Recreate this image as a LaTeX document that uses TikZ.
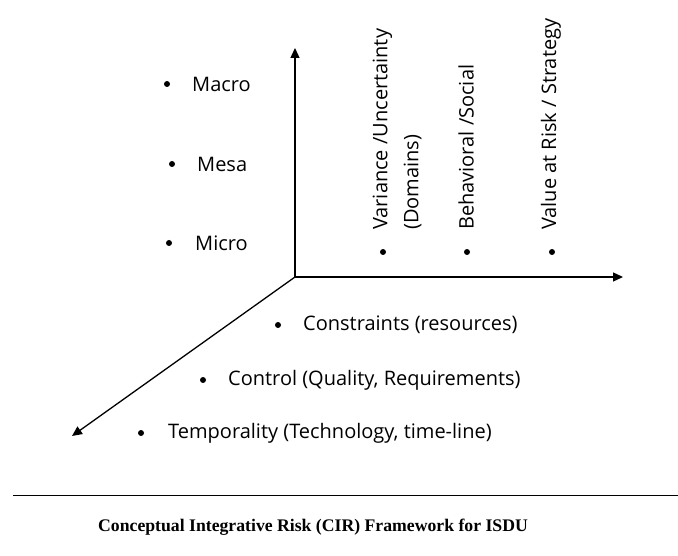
\documentclass[tikz,border=0pt]{standalone}
\usepackage{fontspec}
\setmainfont{Liberation Serif}
\newfontfamily\labfont{Open Sans}
\usetikzlibrary{arrows.meta}
\begin{document}
\begin{tikzpicture}[x=1pt,y=-1pt,
  axis/.style={line width=1.3pt,-{Triangle[length=10pt,width=9pt]}},
  dot/.style={circle,fill=black,inner sep=0pt,minimum size=6pt},
  lab/.style={font=\labfont\fontsize{20}{24}\selectfont,inner sep=0pt,anchor=west},
  vlab/.style={lab,rotate=90,align=left},
  caption/.style={font=\bfseries\fontsize{17.7}{21}\selectfont,inner sep=0pt,anchor=west}]
\useasboundingbox (0,0) rectangle (678,556);

% axes
\coordinate (O) at (295,277);
\coordinate (ytip) at (295,48);
\coordinate (xtip) at (623,277);
\coordinate (ztip) at (72,436);
\draw[axis] (O) -- (ytip);
\draw[axis] (O) -- (xtip);
\draw[axis] (O) -- (ztip);

% levels along the vertical axis
\node[dot] (dmacro) at (167,84) {};
\node[lab] (macro) at (192,84) {Macro};
\node[dot] (dmesa) at (172,164) {};
\node[lab] (mesa) at (197,164) {Mesa};
\node[dot] (dmicro) at (169,243) {};
\node[lab] (micro) at (195,243) {Micro};

% dimensions along the horizontal axis
\node[dot] (dvar) at (383,252) {};
\node[vlab] (var) at (397,230) {Variance /Uncertainty\\[7pt](Domains)};
\node[dot] (dbeh) at (467,252) {};
\node[vlab] (beh) at (466,230) {Behavioral /Social};
\node[dot] (dval) at (552,252) {};
\node[vlab] (val) at (551,230) {Value at Risk / Strategy};

% dimensions along the depth axis
\node[dot] (dcon) at (278,325) {};
\node[lab] (con) at (303,325) {Constraints (resources)};
\node[dot] (dctl) at (203,380) {};
\node[lab] (ctl) at (228,380) {Control (Quality, Requirements)};
\node[dot] (dtmp) at (141,433) {};
\node[lab] (tmp) at (168,433) {Temporality (Technology, time-line)};

% caption
\coordinate (rl) at (13,495);
\coordinate (rr) at (678,495);
\draw[line width=0.9pt] (rl) -- (rr);
\node[caption] (cap) at (98,527) {Conceptual Integrative Risk (CIR) Framework for ISDU};
\end{tikzpicture}
\end{document}
